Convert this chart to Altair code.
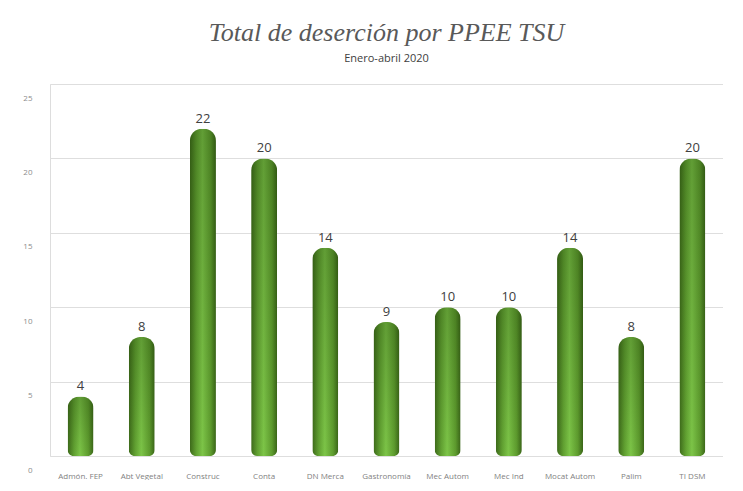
import altair as alt
import pandas as pd

categories = ["Admón. FEP", "Abt Vegetal", "Construc", "Conta", "DN Merca",
              "Gastronomía", "Mec Autom", "Mec Ind", "Mocat Autom", "Palim", "TI DSM"]
values = [4, 8, 22, 20, 14, 9, 10, 10, 14, 8, 20]
y_ticks = [0, 5, 10, 15, 20, 25]

df = pd.DataFrame({"cat": categories, "val": values})

side_grad = alt.Gradient(
    gradient="linear", x1=0, x2=1, y1=0, y2=0,
    stops=[
        alt.GradientStop(color="#3d6a1a", offset=0),
        alt.GradientStop(color="#62a232", offset=0.25),
        alt.GradientStop(color="#7dc548", offset=0.48),
        alt.GradientStop(color="#5e9c2e", offset=0.8),
        alt.GradientStop(color="#3a6518", offset=1),
    ],
)
shade_grad = alt.Gradient(
    gradient="linear", x1=0, x2=0, y1=0, y2=1,
    stops=[
        alt.GradientStop(color="rgba(25,55,5,0.28)", offset=0),
        alt.GradientStop(color="rgba(25,55,5,0.0)", offset=1),
    ],
)

x_enc = alt.X("cat:N", sort=categories,
              scale=alt.Scale(paddingInner=0, paddingOuter=0),
              axis=alt.Axis(title=None, labelAngle=0, labelFontSize=8,
                            labelColor="#7f7f7f", labelFont="Open Sans",
                            labelPadding=16, ticks=False, domain=False,
                            grid=False))
y_enc = alt.Y("val:Q", scale=alt.Scale(domain=[0, 25], nice=False),
              axis=alt.Axis(title=None, values=y_ticks, labelFontSize=8,
                            labelColor="#8c8c8c", labelFont="Open Sans",
                            labelPadding=18, labelOffset=14, ticks=False,
                            domain=False, gridColor="#dedede", gridWidth=1,
                            minExtent=42, maxExtent=42))

base = alt.Chart(df)

bars = base.mark_bar(width=26, color=side_grad,
                     cornerRadiusTopLeft=12, cornerRadiusTopRight=12,
                     cornerRadiusBottomLeft=6, cornerRadiusBottomRight=6
                     ).encode(x=x_enc, y=y_enc)
shade = base.mark_bar(width=26, color=shade_grad,
                      cornerRadiusTopLeft=12, cornerRadiusTopRight=12,
                      cornerRadiusBottomLeft=6, cornerRadiusBottomRight=6
                      ).encode(x=x_enc, y=y_enc)
labels = base.mark_text(dy=-10, fontSize=13, color="#404040",
                        font="Open Sans").encode(
    x=x_enc, y=y_enc, text="val:Q")

chart = (bars + shade + labels).properties(
    width=673, height=372,
    padding={"left": 0, "top": 12, "right": 0, "bottom": 0},
    title=alt.TitleParams(
        text="Total de deserción por PPEE  TSU",
        subtitle="Enero-abril 2020",
        font="Liberation Serif", fontStyle="italic", fontWeight="normal",
        fontSize=26, color="#595959",
        subtitleFont="Open Sans", subtitleFontSize=11,
        subtitleColor="#404040", subtitlePadding=7,
        anchor="middle", offset=20,
    ),
).configure_view(stroke=None).configure(background="white")

chart.save("out.html", embed_options={"renderer": "svg", "actions": False})
